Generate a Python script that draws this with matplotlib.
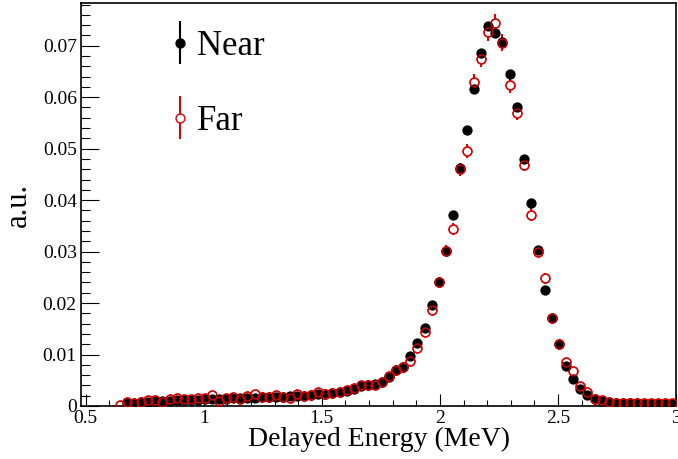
import matplotlib
matplotlib.use('Agg')
import matplotlib.pyplot as plt
from matplotlib.ticker import MultipleLocator
from matplotlib.legend_handler import HandlerErrorbar

plt.rcParams['font.family'] = ['Liberation Serif', 'DejaVu Serif']

# bin centres (0.03 MeV bins)
far_energy = [0.645, 0.675, 0.705, 0.735, 0.765, 0.795, 0.825, 0.855, 0.885, 0.915,
              0.945, 0.975, 1.005, 1.035, 1.065, 1.095, 1.125, 1.155, 1.185, 1.215,
              1.245, 1.275, 1.305, 1.335, 1.365, 1.395, 1.425, 1.455, 1.485, 1.515,
              1.545, 1.575, 1.605, 1.635, 1.665, 1.695, 1.725, 1.755, 1.785, 1.815,
              1.845, 1.875, 1.905, 1.935, 1.965, 1.995, 2.025, 2.055, 2.085, 2.115,
              2.145, 2.175, 2.205, 2.235, 2.265, 2.295, 2.325, 2.355, 2.385, 2.415,
              2.445, 2.475, 2.505, 2.535, 2.565, 2.595, 2.625, 2.655, 2.685, 2.715,
              2.745, 2.775, 2.805, 2.835, 2.865, 2.895, 2.925, 2.955, 2.985]
near_energy = far_energy[1:]

near = [0.0005, 0.0006, 0.0007, 0.0008, 0.0009, 0.0009, 0.0010, 0.0011, 0.0011,
        0.0012, 0.0012, 0.0013, 0.0013, 0.0013, 0.0014, 0.0015, 0.0015, 0.0016, 0.0016,
        0.0017, 0.0017, 0.0018, 0.0018, 0.0019, 0.0020, 0.0020, 0.0021, 0.0023, 0.0024,
        0.0025, 0.0027, 0.0030, 0.0033, 0.0039, 0.0041, 0.0042, 0.0047, 0.0056, 0.0069,
        0.0075, 0.0098, 0.0123, 0.0151, 0.0196, 0.0241, 0.0301, 0.0372, 0.0463, 0.0536,
        0.0615, 0.0686, 0.0738, 0.0725, 0.0707, 0.0646, 0.0581, 0.0480, 0.0394, 0.0303,
        0.0225, 0.0171, 0.0120, 0.0078, 0.0052, 0.0033, 0.0021, 0.0013, 0.0010, 0.0007,
        0.0006, 0.0005, 0.0005, 0.0005, 0.0004, 0.0004, 0.0004, 0.0004, 0.0004]
near_err = [0.0001, 0.0001, 0.0001, 0.0001, 0.0001, 0.0001, 0.0001, 0.0001, 0.0001,
            0.0001, 0.0001, 0.0001, 0.0001, 0.0001, 0.0001, 0.0001, 0.0001, 0.0001, 0.0001,
            0.0001, 0.0001, 0.0001, 0.0001, 0.0001, 0.0001, 0.0001, 0.0001, 0.0001, 0.0001,
            0.0001, 0.0001, 0.0001, 0.0001, 0.0001, 0.0001, 0.0001, 0.0001, 0.0001, 0.0001,
            0.0001, 0.0002, 0.0002, 0.0002, 0.0002, 0.0002, 0.0003, 0.0003, 0.0003, 0.0003,
            0.0004, 0.0004, 0.0004, 0.0004, 0.0004, 0.0004, 0.0004, 0.0003, 0.0003, 0.0003,
            0.0002, 0.0002, 0.0002, 0.0001, 0.0001, 0.0001, 0.0001, 0.0001, 0.0001, 0.0001,
            0.0001, 0.0001, 0.0001, 0.0001, 0.0001, 0.0001, 0.0001, 0.0001, 0.0001]

far = [0.0001, 0.0008, 0.0006, 0.0007, 0.0012, 0.0011, 0.0008, 0.0013, 0.0015, 0.0013,
       0.0014, 0.0015, 0.0015, 0.0021, 0.0010, 0.0015, 0.0018, 0.0014, 0.0020, 0.0024,
       0.0018, 0.0018, 0.0021, 0.0018, 0.0016, 0.0024, 0.0019, 0.0021, 0.0028, 0.0024,
       0.0025, 0.0027, 0.0031, 0.0035, 0.0041, 0.0041, 0.0041, 0.0046, 0.0059, 0.0069,
       0.0076, 0.0087, 0.0113, 0.0144, 0.0187, 0.0241, 0.0302, 0.0344, 0.0460, 0.0496,
       0.0630, 0.0675, 0.0726, 0.0745, 0.0706, 0.0623, 0.0570, 0.0469, 0.0372, 0.0300,
       0.0248, 0.0171, 0.0121, 0.0086, 0.0068, 0.0039, 0.0028, 0.0014, 0.0011, 0.0008,
       0.0006, 0.0006, 0.0005, 0.0005, 0.0005, 0.0005, 0.0005, 0.0005, 0.0005]
far_err = [0.0001, 0.0002, 0.0002, 0.0002, 0.0002, 0.0002, 0.0002, 0.0002, 0.0002, 0.0002,
           0.0002, 0.0002, 0.0002, 0.0003, 0.0003, 0.0003, 0.0003, 0.0003, 0.0003, 0.0003,
           0.0003, 0.0003, 0.0003, 0.0003, 0.0003, 0.0003, 0.0003, 0.0003, 0.0003, 0.0003,
           0.0003, 0.0003, 0.0003, 0.0004, 0.0004, 0.0004, 0.0004, 0.0004, 0.0005, 0.0005,
           0.0005, 0.0006, 0.0006, 0.0007, 0.0008, 0.0010, 0.0011, 0.0012, 0.0013, 0.0014,
           0.0016, 0.0016, 0.0017, 0.0017, 0.0016, 0.0015, 0.0015, 0.0013, 0.0012, 0.0011,
           0.0010, 0.0008, 0.0007, 0.0006, 0.0005, 0.0004, 0.0003, 0.0002, 0.0002, 0.0002,
           0.0001, 0.0001, 0.0001, 0.0001, 0.0001, 0.0001, 0.0001, 0.0001, 0.0001]

fig = plt.figure(figsize=(6.78, 4.59), dpi=100)
ax = fig.add_axes([81 / 678, 53 / 459, 595 / 678, 403 / 459])

red = '#dd0000'
ms = 6.4

# far: bars, then white-filled markers (gap in bar like ROOT)
h_far = ax.errorbar(far_energy, far, yerr=far_err, fmt='o', color=red, ms=ms,
                    mfc='white', mec=red, mew=1.0, elinewidth=1.5, capsize=0,
                    zorder=2, label='Far')
h_near = ax.errorbar(near_energy, near, yerr=near_err, fmt='o', color='black', ms=ms,
                     mfc='black', mec='black', elinewidth=1.5, capsize=0,
                     zorder=3, label='Near')
# hollow red ring on top so overlapping black shows through
ax.plot(far_energy, far, 'o', ms=ms, mfc='none', mec=red, mew=1.0, zorder=4)

ax.set_xlim(0.48, 3.0)
ax.set_ylim(0, 0.0783)

ax.xaxis.set_major_locator(MultipleLocator(0.5))
ax.xaxis.set_minor_locator(MultipleLocator(0.1))
ax.yaxis.set_major_locator(MultipleLocator(0.01))
ax.yaxis.set_minor_locator(MultipleLocator(0.002))
ax.set_xticks([0.5, 1.0, 1.5, 2.0, 2.5, 3.0], ['0.5', '1', '1.5', '2', '2.5', '3'])
ax.set_yticks([0, 0.01, 0.02, 0.03, 0.04, 0.05, 0.06, 0.07],
              ['0', '0.01', '0.02', '0.03', '0.04', '0.05', '0.06', '0.07'])

ax.tick_params(axis='both', which='both', direction='in', top=False, right=False,
               width=0.8, labelsize=14, pad=3)
ax.tick_params(axis='x', which='major', length=8.5)
ax.tick_params(axis='x', which='minor', length=4.3)
ax.tick_params(axis='y', which='major', length=13)
ax.tick_params(axis='y', which='minor', length=6.5)
for s in ax.spines.values():
    s.set_linewidth(1.2)

ax.set_xlabel('Delayed Energy (MeV)', fontsize=20, labelpad=0)
ax.set_ylabel('a.u.', fontsize=22, labelpad=7)

leg = ax.legend([h_near, h_far], ['Near', 'Far'], loc='upper left',
                bbox_to_anchor=(162.6 / 678, (459 - 30) / 459),
                bbox_transform=fig.transFigure, frameon=False, fontsize=25,
                handlelength=1.0, handletextpad=0.0, labelspacing=1.2,
                borderpad=0, borderaxespad=0,
                handler_map={type(h_near): HandlerErrorbar(yerr_size=0.62)})
for hnd in leg.legend_handles:
    for child in hnd.get_children():
        if hasattr(child, 'set_linewidth') and not hasattr(child, 'get_marker'):
            child.set_linewidth(2.2)

fig.savefig('out.png', dpi=100)
plt.close(fig)
